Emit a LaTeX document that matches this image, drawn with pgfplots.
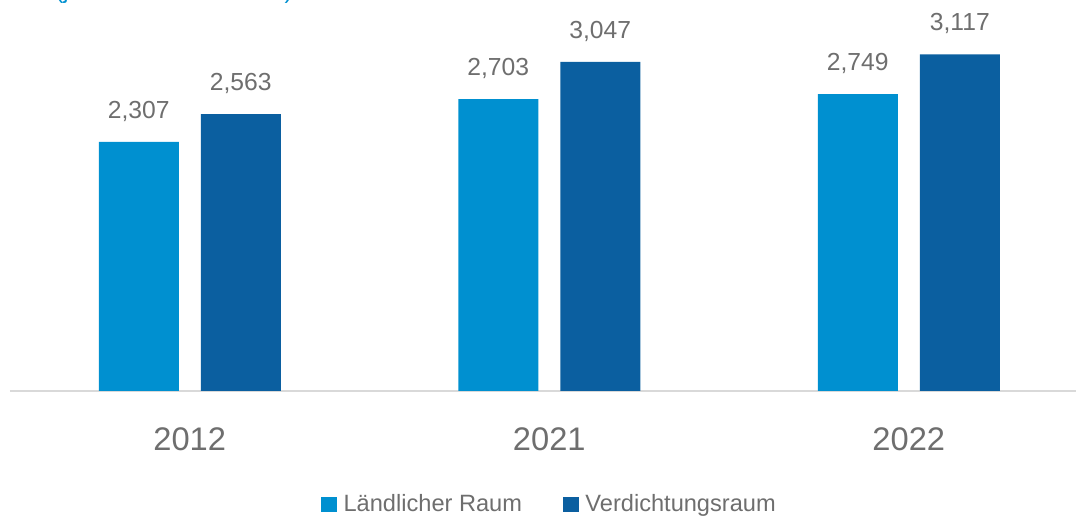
\documentclass[border=0pt]{standalone}
\usepackage{fontspec}
\setmainfont{Liberation Sans}
\usepackage{pgfplots}
\pgfplotsset{compat=1.18}
\definecolor{lblue}{HTML}{0090D0}
\definecolor{dblue}{HTML}{0B5FA0}
\definecolor{txt}{HTML}{6E6E6E}
\definecolor{axgray}{HTML}{D9D9D9}
\begin{document}
\begin{tikzpicture}
\path[use as bounding box] (0,0) rectangle (807pt,387.75pt);
\clip (0,0) rectangle (807pt,387.75pt);
\node[anchor=base west, inner sep=0pt, text=lblue, font=\fontsize{18}{20}\selectfont] at (41.25pt,388.5pt) {(je Einwohner in Euro)};
\begin{axis}[
  at={(7.5pt,94.5pt)}, anchor=south west,
  scale only axis,
  width=808.9pt, height=293.25pt,
  xmin=-0.5, xmax=2.5,
  ymin=0, ymax=3620,
  axis x line=bottom,
  axis y line=none,
  axis line style={draw=axgray, line width=1.5pt, -},
  xtick={0,1,2},
  xticklabels={2012,2021,2022},
  major tick length=0pt,
  xticklabel style={text=txt, font=\fontsize{24.5}{26}\selectfont, anchor=north, yshift=-24pt},
  ybar=16.5pt,
  bar width=60pt,
  nodes near coords,
  nodes near coords style={text=txt, font=\fontsize{18.5}{20}\selectfont, anchor=south, inner sep=0pt, yshift=15pt, /pgf/number format/.cd, 1000 sep={,}, assume math mode=true},
  legend columns=2,
  legend style={at={(0.5,-0.29)}, anchor=center, draw=none, fill=none,
    font=\fontsize{17.7}{19}\selectfont, text=txt,
    /tikz/every odd column/.append style={column sep=4pt},
    /tikz/every even column/.append style={column sep=30pt},
    nodes={inner sep=1pt}},
  legend image code/.code={\fill[#1] (0pt,-5.8pt) rectangle (11.6pt,5.8pt);},
]
\addplot[fill=lblue, draw=none] coordinates {(0,2307) (1,2703) (2,2749)};
\addplot[fill=dblue, draw=none] coordinates {(0,2563) (1,3047) (2,3117)};
\legend{Ländlicher Raum, Verdichtungsraum}
\draw[axgray, line width=1.5pt] (axis cs:-0.5,0) -- ++(0pt,-5.5pt);
\end{axis}
\end{tikzpicture}
\end{document}
